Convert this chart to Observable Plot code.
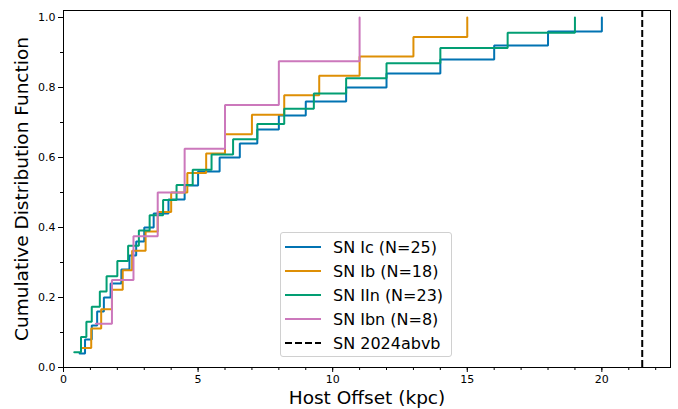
<!DOCTYPE html>
<html>
<head>
<meta charset="utf-8">
<script src="https://cdn.jsdelivr.net/npm/d3@7"></script>
<script src="https://cdn.jsdelivr.net/npm/@observablehq/plot@0.6"></script>
<style>
  html, body { margin: 0; padding: 0; background: #fff; }
  #wrap { position: relative; width: 678px; height: 409px; font-family: "DejaVu Sans", sans-serif; }
  #legend { position: absolute; left: 280px; top: 232px; width: 172px; height: 125px;
    border: 1px solid #d0d0d0; border-radius: 3px; background: rgba(255,255,255,0.85);
    box-sizing: border-box; padding-top: 2px; }
  .row { display: flex; align-items: center; height: 24px; }
  .row svg { margin-left: 4px; margin-right: 12px; }
  .row span { font-size: 16px; color: #000; white-space: nowrap; }
</style>
</head>
<body>
<div id="wrap"></div>
<script>
// Sorted host offsets (kpc) per class
const icOffsets  = [0.6, 0.8, 1.05, 1.25, 1.5, 1.75, 2.15, 2.45, 2.7, 3.0, 3.35, 3.9, 4.5, 5.0, 5.8, 6.55, 7.2, 8.0, 9.0, 10.5, 12.0, 14.0, 16.0, 18.0, 20.0];
const ibOffsets  = [0.7, 1.03, 1.4, 1.8, 2.2, 2.55, 3.05, 3.5, 4.0, 4.6, 5.3, 6.0, 7.0, 8.2, 9.5, 11.0, 13.0, 15.0];
const iinOffsets = [0.4, 0.65, 0.85, 1.05, 1.35, 1.6, 2.0, 2.4, 2.8, 3.2, 3.7, 4.2, 4.8, 5.5, 6.3, 7.2, 8.2, 9.3, 10.5, 12.0, 14.0, 16.5, 19.0];
const ibnOffsets = [1.2, 1.8, 2.6, 3.5, 4.5, 6.0, 8.0, 11.0];
const sn2024abvb = 21.5;

const seriesNames  = ["SN Ic", "SN Ib", "SN IIn", "SN Ibn"];
const seriesData   = [icOffsets, ibOffsets, iinOffsets, ibnOffsets];
const seriesColors = ["#0173b2", "#de8f05", "#029e73", "#cc78bc"];
const xMajorTicks = [0, 5, 10, 15, 20];
const yMajorTicks = [0, 0.2, 0.4, 0.6, 0.8, 1.0];

const rows = [];
seriesData.forEach((arr, s) => {
  const n = arr.length;
  arr.forEach((v, i) => rows.push({series: seriesNames[s], x: v, y: (i + 1) / n}));
});

const lines = seriesNames.map((name, s) =>
  Plot.line(rows.filter(d => d.series === name), {
    x: "x", y: "y", curve: "step-after", stroke: seriesColors[s], strokeWidth: 2, strokeLinejoin: "miter"
  })
);

const chart = Plot.plot({
  width: 678, height: 409,
  marginLeft: 63, marginRight: 8, marginTop: 10, marginBottom: 42,
  style: { fontFamily: "DejaVu Sans, sans-serif", fontSize: "11px", color: "#000", background: "#fff" },
  x: { domain: [0, 22.55] },
  y: { domain: [0, 1.02] },
  marks: [
    ...lines,
    Plot.ruleX([sn2024abvb], { stroke: "black", strokeWidth: 2, strokeDasharray: "7,3" }),
    Plot.frame({ stroke: "black", strokeWidth: 1 }),
    Plot.axisX(xMajorTicks, { tickSize: 5, tickPadding: 3, label: null, tickFormat: d => d, fontSize: 11 }),
    Plot.axisX(d3.range(0, 23, 1), { tickSize: 3, label: null, tickFormat: () => "" }),
    Plot.axisY(yMajorTicks, { tickSize: 5, tickPadding: 3, label: null, tickFormat: d3.format(".1f"), fontSize: 11 }),
    Plot.axisY(d3.range(0, 11).map(i => i / 10), { tickSize: 3, label: null, tickFormat: () => "" }),
    Plot.text(["Host Offset (kpc)"], { frameAnchor: "bottom", dy: 31, fontSize: 18.5, textAnchor: "middle", lineAnchor: "middle" }),
    Plot.text(["Cumulative Distribution Function"], { frameAnchor: "left", dx: -41, rotate: -90, fontSize: 18.5, textAnchor: "middle", lineAnchor: "middle" })
  ]
});

const wrap = document.getElementById("wrap");
wrap.appendChild(chart);

// Legend
const legendItems = seriesNames.map((name, s) => ({ label: `${name} (N=${seriesData[s].length})`, color: seriesColors[s], dash: null }));
legendItems.push({ label: "SN 2024abvb", color: "black", dash: "7,3" });
const legend = document.createElement("div");
legend.id = "legend";
legendItems.forEach(item => {
  const row = document.createElement("div");
  row.className = "row";
  row.innerHTML = `<svg width="36" height="6"><line x1="0" y1="3" x2="36" y2="3" stroke="${item.color}" stroke-width="2" ${item.dash ? `stroke-dasharray="${item.dash}"` : ""}/></svg><span>${item.label}</span>`;
  legend.appendChild(row);
});
wrap.appendChild(legend);
</script>
</body>
</html>
